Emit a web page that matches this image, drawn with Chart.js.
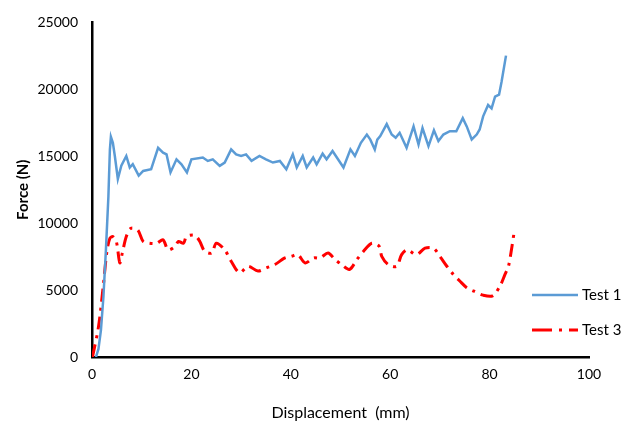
<!DOCTYPE html>
<html>
<head>
<meta charset="utf-8">
<script src="https://cdn.jsdelivr.net/npm/chart.js@4.4.0/dist/chart.umd.min.js"></script>
<style>
    html, body { margin: 0; padding: 0; background: #fff; }
    #wrap { width: 632px; height: 425px; position: relative; }
</style>
</head>
<body>
<div id="wrap"><canvas id="forceChart"></canvas></div>
<script>
// Test 1 (blue) - displacement (mm) and force (N)
const test1Disp = [0.8, 1.3, 1.8, 2.3, 2.8, 3.3, 3.6, 3.8, 4.2, 4.6, 5.2, 5.9, 6.9, 7.6, 8.2, 9.4, 10.3, 11.9,
    13.3, 14.3, 15.0, 15.8, 17.0, 18.0, 19.1, 20.0, 22.3, 23.3, 24.3, 25.7, 26.7, 28.0, 29.0, 30.0, 31.0, 32.1,
    33.7, 35.0, 36.4, 37.8, 39.1, 40.4, 41.2, 42.4, 43.2, 44.5, 45.2, 46.4, 47.2, 48.4, 50.6, 52.0, 52.9, 54.1,
    55.3, 56.0, 56.9, 57.4, 58.0, 59.3, 60.3, 61.1, 61.9, 63.3, 64.7, 65.7, 66.5, 67.7, 68.8, 69.7, 70.7, 72.0,
    73.3, 74.6, 75.4, 76.4, 77.4, 78.0, 78.7, 79.7, 80.4, 81.1, 81.9, 82.4, 83.3];
const test1Force = [0, 600, 2000, 4500, 8000, 12000, 15500, 16450, 16000, 15000, 13300, 14290, 15020, 14160, 14400, 13550, 13900, 14030,
    15630, 15270, 15140, 13790, 14770, 14400, 13790, 14770, 14900, 14650, 14770, 14280, 14520, 15510, 15140, 15020, 15140, 14650,
    15020, 14770, 14530, 14650, 14030, 15140, 14160, 15020, 14160, 14900, 14400, 15190, 14770, 15390, 14160, 15510, 15020, 16000,
    16620, 16240, 15510, 16240, 16500, 17400, 16620, 16380, 16750, 15630, 17230, 15880, 17110, 15760, 16940, 16130, 16620, 16870,
    16870, 17850, 17230, 16250, 16620, 17000, 17980, 18830, 18580, 19450, 19600, 20550, 22520];

// Test 3 (red, dash-dot)
const test3Disp = [0.1, 1.3, 2.3, 3.0, 3.6, 4.2, 4.9, 5.6, 6.1, 6.9, 7.8, 9.2, 10.3, 11.6, 13.0, 14.3, 15.3, 16.7,
    17.4, 18.4, 19.0, 20.3, 21.0, 21.7, 22.7, 24.1, 25.0, 26.7, 28.0, 29.7, 31.4, 33.4, 35.1, 36.8, 38.8, 40.1,
    41.4, 42.9, 44.6, 45.9, 47.5, 48.9, 50.2, 51.8, 53.3, 54.6, 56.3, 57.8, 58.3, 59.6, 61.3, 62.3, 63.4, 65.3,
    67.0, 68.7, 70.0, 71.4, 72.7, 74.0, 75.4, 76.7, 78.7, 80.6, 82.1, 83.1, 83.8, 84.5, 84.9];
const test3Force = [0, 2240, 5430, 7890, 8870, 9000, 8630, 7030, 7770, 9000, 9610, 9490, 8630, 8500, 8500, 8750, 8010, 8260,
    8630, 8500, 9000, 9120, 9000, 8630, 7890, 7770, 8500, 8010, 7150, 6290, 6780, 6420, 6660, 6910, 7400, 7520,
    7650, 7030, 7400, 7400, 7770, 7280, 6910, 6540, 7280, 7890, 8500, 8260, 7520, 6910, 6780, 7650, 8010, 7650,
    8130, 8130, 7520, 6780, 6170, 5680, 5180, 4940, 4620, 4570, 5310, 6170, 6780, 8260, 9240];

const seriesLabels = ['Test 1', 'Test 3'];
const xTicks = [0, 20, 40, 60, 80, 100];
const yTicks = [0, 5000, 10000, 15000, 20000, 25000];

const FONT = 'Lato, "Liberation Sans", sans-serif';

function toPoints(xs, ys) {
    return xs.map((x, i) => ({ x: x, y: ys[i] }));
}

// legend drawn inside the plot area, bottom right
const insideLegend = {
    id: 'insideLegend',
    afterDraw(chart) {
        const ctx = chart.ctx;
        const area = chart.chartArea;
        const rows = [area.bottom - 62, area.bottom - 27];
        ctx.save();
        chart.data.datasets.forEach((ds, i) => {
            const y = rows[i];
            ctx.beginPath();
            ctx.strokeStyle = ds.borderColor;
            ctx.lineWidth = ds.borderWidth;
            ctx.setLineDash(ds.legendDash || []);
            ctx.moveTo(area.right - 57, y);
            ctx.lineTo(area.right - 11, y);
            ctx.stroke();
            ctx.setLineDash([]);
            ctx.fillStyle = '#000';
            ctx.font = '15px ' + FONT;
            ctx.textBaseline = 'middle';
            ctx.fillText(ds.label, area.right - 7, y);
        });
        ctx.restore();
    }
};

const ctx = document.getElementById('forceChart').getContext('2d');
new Chart(ctx, {
    type: 'line',
    data: {
        datasets: [
            {
                label: seriesLabels[0],
                data: toPoints(test1Disp, test1Force),
                borderColor: '#5B9BD5',
                borderWidth: 2.5,
                pointRadius: 0,
                fill: false,
                tension: 0
            },
            {
                label: seriesLabels[1],
                data: toPoints(test3Disp, test3Force),
                borderColor: '#FF0000',
                borderWidth: 3,
                borderDash: [13, 6, 3, 6],
                legendDash: [20, 7, 3, 7],
                pointRadius: 0,
                fill: false,
                tension: 0.3
            }
        ]
    },
    options: {
        responsive: true,
        maintainAspectRatio: false,
        animation: false,
        layout: { padding: { top: 19, right: 43, left: 0, bottom: 0 } },
        plugins: {
            legend: { display: false },
            tooltip: { enabled: false }
        },
        scales: {
            x: {
                type: 'linear',
                min: 0,
                max: 100,
                afterBuildTicks: scale => { scale.ticks = xTicks.map(v => ({ value: v })); },
                afterFit: scale => { scale.height = 68; },
                grid: { display: false, drawTicks: false },
                border: { display: true, color: '#000', width: 2.5 },
                ticks: { color: '#000', padding: 9, font: { family: FONT, size: 14 } },
                title: {
                    display: true,
                    text: 'Displacement  (mm)',
                    color: '#000',
                    padding: { top: 0, bottom: 3 },
                    font: { family: FONT, size: 16 }
                }
            },
            y: {
                min: 0,
                max: 25000,
                afterBuildTicks: scale => { scale.ticks = yTicks.map(v => ({ value: v })); },
                afterFit: scale => { scale.width = 92; },
                grid: { display: false, drawTicks: false },
                border: { display: true, color: '#000', width: 2.5 },
                ticks: {
                    color: '#000',
                    padding: 14,
                    font: { family: FONT, size: 14 },
                    callback: v => String(v)
                },
                title: {
                    display: true,
                    text: 'Force (N)',
                    color: '#000',
                    padding: { top: 14, bottom: 0 },
                    font: { family: FONT, size: 15, weight: 'bold' }
                }
            }
        }
    },
    plugins: [insideLegend]
});
</script>
</body>
</html>
